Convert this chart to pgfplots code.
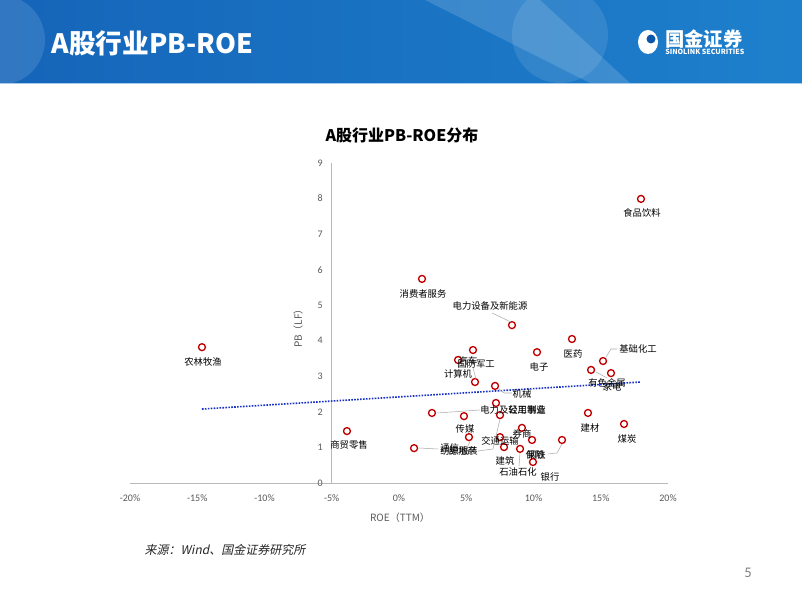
\documentclass[border=0pt]{standalone}
\usepackage{fontspec}
\setmainfont{Noto Sans CJK SC}
\newfontfamily\lat{Carlito}
\newfontfamily\cjkit[FakeSlant=0.2]{Noto Sans CJK SC}
\usepackage{pgfplots}
\usepackage{pgfplotstable}
\pgfplotsset{compat=1.18}

\definecolor{mk}{HTML}{C00000}
\definecolor{trend}{HTML}{1730C8}
\definecolor{tick}{HTML}{595959}
\definecolor{hdA}{HTML}{1565B9}
\definecolor{hdB}{HTML}{0A56A8}
\definecolor{hdC}{HTML}{1E80CC}

% ROE (TTM, %) and PB (LF) per industry
\pgfplotstableread{
roe    pb
17.99  7.99
1.71   5.74
8.40   4.44
-14.65 3.82
12.86  4.05
10.26  3.68
15.17  3.43
14.28  3.18
15.76  3.09
5.50   3.74
4.39   3.46
5.65   2.84
7.14   2.73
7.21   2.25
2.45   1.97
4.83   1.88
7.51   1.91
9.14   1.55
7.51   1.29
9.89   1.21
12.12  1.21
7.81   1.01
9.00   0.96
9.96   0.59
-3.87  1.46
14.05  1.97
16.73  1.66
1.12   0.98
5.20   1.29
}\industry

\begin{document}
\begin{tikzpicture}
\useasboundingbox (0,0) rectangle (601.5pt,451.5pt);
\fill[white] (0,0) rectangle (601.5pt,451.5pt);

% header banner (pixel coordinates, y downwards)
\begin{scope}[x=0.75pt,y=-0.75pt,yshift=451.5pt]
  \shade[left color=hdA, middle color=hdB, right color=hdC] (0,0) rectangle (802,83);
  \fill[white,opacity=0.12] (0,40) circle (45);
  \fill[white,opacity=0.15] (425,0) -- (540,0) -- (630,83) -- (590,83) -- cycle;
  \fill[white,opacity=0.10] (560,35) circle (48);
  \draw[hdC!40] (0,83.5) -- (802,83.5);
  \node[anchor=west, text=white, font=\bfseries\fontsize{20}{23}\selectfont] at (47,43) {A股行业PB-ROE};
  \fill[white] (648,42) ellipse (10 and 12);
  \fill[hdB] (651,39) circle (4.5);
  \node[anchor=west, text=white, font=\bfseries\fontsize{14.5}{16}\selectfont, inner sep=0pt] at (665,39) {国金证券};
  \node[anchor=west, text=white, font=\bfseries\fontsize{5.3}{6}\selectfont, inner sep=0pt] at (665,52) {SINOLINK SECURITIES};
\end{scope}

\begin{axis}[
    at={(97.5pt,89.25pt)}, anchor=south west,
    scale only axis, width=403.5pt, height=240pt,
    xmin=-20, xmax=20, ymin=0, ymax=9,
    axis x line*=bottom, axis y line*=left,
    x axis line style={draw=gray!55, -},
    y axis line style={draw=none, -},
    xtick={-20,-15,...,20}, ytick={0,1,...,9},
    tick style={draw=none},
    xticklabel={\pgfmathprintnumber{\tick}\%},
    ticklabel style={font=\lat\fontsize{7.5}{9}\selectfont, text=tick},
    xticklabel style={yshift=-5pt},
    yticklabel style={xshift=148pt},
    /pgf/number format/assume math mode=true,
    clip=false,
  ]
  \draw[gray!55] (axis cs:-5,0) -- (axis cs:-5,9);
  \addplot[trend, densely dotted, line width=1.2pt] coordinates {(-14.65,2.08) (17.99,2.84)};
  \addplot[only marks, mark=*, mark size=2.6pt,
    mark options={draw=mk, fill=white, line width=1pt}] table[x=roe, y=pb] {\industry};
\end{axis}

% titles, labels and leader lines (pixel coordinates)
\begin{scope}[x=0.75pt,y=-0.75pt,yshift=451.5pt,
    lab/.style={font=\fontsize{7}{8}\selectfont, inner sep=0pt, text=black},
    lead/.style={draw=gray!65, line width=0.4pt}]
  \node[font=\bfseries\fontsize{12}{14}\selectfont] at (402,135) {A股行业PB-ROE分布};
  \node[rotate=90, font=\fontsize{7.5}{9}\selectfont, text=tick] at (298,326) {PB（LF）};
  \node[font=\fontsize{7.5}{9}\selectfont, text=tick] at (400,518) {ROE（TTM）};

  \node[lab] at (642,213) {食品饮料};
  \node[lab] at (423,294) {消费者服务};
  \node[lab] at (490,306) {电力设备及新能源};
  \node[lab] at (203,362) {农林牧渔};
  \node[lab] at (573,354) {医药};
  \node[lab] at (539,367) {电子};
  \node[lab] at (638,349) {基础化工};
  \node[lab] at (607,383) {有色金属};
  \node[lab] at (612,387) {家电};
  \node[lab] at (476,364) {国防军工};
  \node[lab] at (458,374) {计算机};
  \node[lab] at (468,361) {汽车};
  \node[lab] at (522,394) {机械};
  \node[lab] at (513,410) {电力及公用事业};
  \node[lab] at (527,410) {轻工制造};
  \node[lab] at (465,429) {传媒};
  \node[lab, anchor=west] at (440,448) {通信};
  \node[lab] at (459,451) {纺织服装};
  \node[lab, anchor=east] at (477,451) {房地产};
  \node[lab] at (522,434) {券商};
  \node[lab] at (500,441) {交通运输};
  \node[lab] at (535,455) {保险};
  \node[lab, anchor=east] at (546,455) {钢铁};
  \node[lab] at (505,461) {建筑};
  \node[lab] at (518,472) {石油石化};
  \node[lab] at (550,477) {银行};
  \node[lab] at (349,445) {商贸零售};
  \node[lab] at (590,428) {建材};
  \node[lab] at (627,439) {煤炭};

  \draw[lead] (492,313) -- (511,322);
  \draw[lead] (617,349) -- (611,349) -- (606,357);
  \draw[lead] (596,372) -- (607,378);
  \draw[lead] (473,368) -- (476,379);
  \draw[lead] (499,389) -- (504,393) -- (512,393);
  \draw[lead] (437,413) -- (480,410);
  \draw[lead] (419,448) -- (438,449);
  \draw[lead] (470,441) -- (468,446);
  \draw[lead] (500,419) -- (493,449) -- (478,451);
  \draw[lead] (562,444) -- (557,453) -- (548,454);
  \draw[lead] (520,453) -- (519,466);

  \node[anchor=west, font=\cjkit\fontsize{9}{10}\selectfont, text=black!85] at (140,550) {来源：Wind、国金证券研究所};
  \node[font=\lat\fontsize{11}{12}\selectfont, text=gray] at (748,573) {5};
\end{scope}
\end{tikzpicture}
\end{document}
